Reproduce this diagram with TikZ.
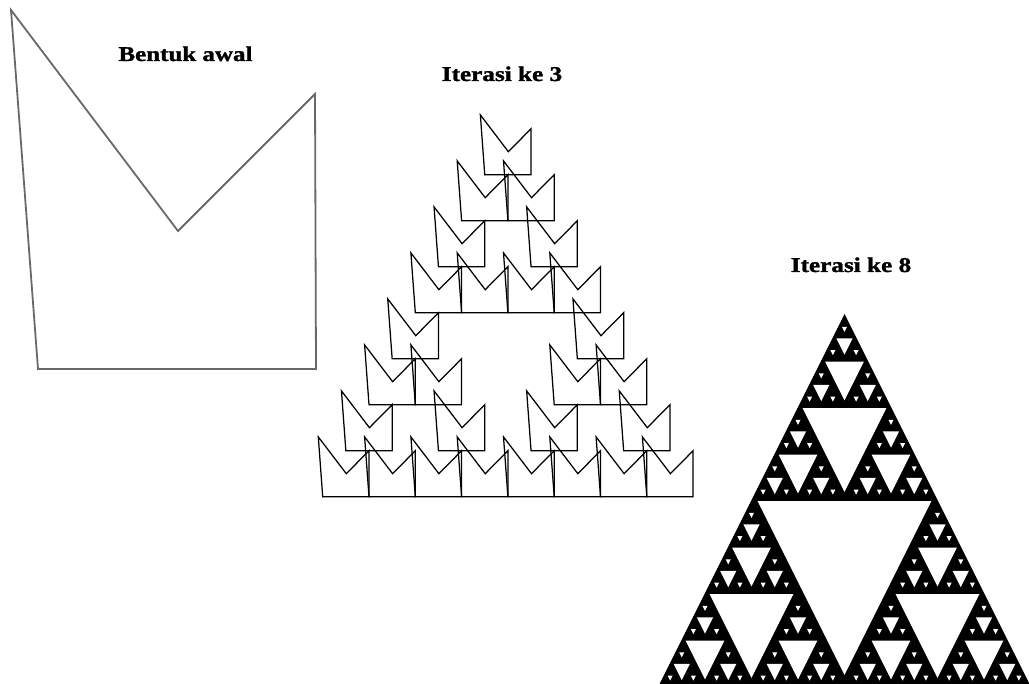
\documentclass[tikz,border=0pt]{standalone}
\usepackage{fontspec}
\setmainfont{Liberation Serif}
\newfontfamily\titlefont{Liberation Serif Bold}[FakeBold=1.3]
\begin{document}
\begin{tikzpicture}[x=1pt,y=-1pt,
  titletext/.style={anchor=base,inner sep=0pt,font=\fontsize{21}{25}\selectfont\titlefont},
  startline/.style={draw={rgb,255:red,105;green,105;blue,105},line width=1.8pt,line join=miter},
  iterline/.style={draw=black,line width=1.25pt,line join=miter},
  holefill/.style={fill=white}]
\newcommand\sierhole[4]{%
 \begingroup
 \pgfmathsetmacro\shw{(#3)/2}%
 \pgfmathsetmacro\shs{2.5+\shw/60}%
 \pgfmathsetmacro\shxl{#1-\shw/2+\shs+0.6}%
 \pgfmathsetmacro\shxr{#1+\shw/2-\shs-0.6}%
 \pgfmathsetmacro\shyt{#2+\shw+1.2}%
 \pgfmathsetmacro\shyb{#2+#3-2*\shs}%
 \fill[holefill] (\shxl,\shyt) -- (\shxr,\shyt) -- (#1,\shyb) -- cycle;
 \ifnum#4<4
   \pgfmathsetmacro\shxa{#1-\shw/2}%
   \pgfmathsetmacro\shxb{#1+\shw/2}%
   \pgfmathsetmacro\shya{#2+\shw}%
   \edef\shnext{\noexpand\sierhole{#1}{#2}{\shw}{\the\numexpr#4+1\relax}%
     \noexpand\sierhole{\shxa}{\shya}{\shw}{\the\numexpr#4+1\relax}%
     \noexpand\sierhole{\shxb}{\shya}{\shw}{\the\numexpr#4+1\relax}}%
   \shnext
 \fi
 \endgroup}
\path[use as bounding box] (0,0) rectangle (1029,684);
\clip (0,0) rectangle (1029,684);

% initial shape
\coordinate (A) at (11,10);
\coordinate (V) at (178,231);
\coordinate (B) at (315,94);
\coordinate (C) at (316,369);
\coordinate (D) at (38,369);
\draw[startline] (A) -- (V) -- (B) -- (C) -- (D) -- cycle;
\node[titletext] (t1) at (185.5,61) {\scalebox{1.19}[1]{Bentuk awal}};

% iteration 3
\node[titletext] (t2) at (502,81) {\scalebox{1.2}[1]{Iterasi ke 3}};
\begin{scope}[shift={(322.7,496.7)},x={(46.3pt,0pt)},y={(0pt,46pt)}]
 \foreach \ax/\ay in {0/0,4/0,2/4}
  \foreach \bx/\by in {0/0,2/0,1/2}
   \foreach \cx/\cy in {0/0,1/0,0.5/1}
    \draw[iterline,shift={({\ax+\bx+\cx},{\ay+\by+\cy})}]
      (0,0) -- (1,0) -- (1,1) -- (0.51,0.5) -- (-0.095,1.3) -- cycle;
\end{scope}

% iteration 8
\node[titletext] (t3) at (851,272) {\scalebox{1.2}[1]{Iterasi ke 8}};
\fill[black] (844.5,314) -- (1030.5,686) -- (658.5,686) -- cycle;
\sierhole{844.5}{314}{372}{0}
\end{tikzpicture}
\end{document}
